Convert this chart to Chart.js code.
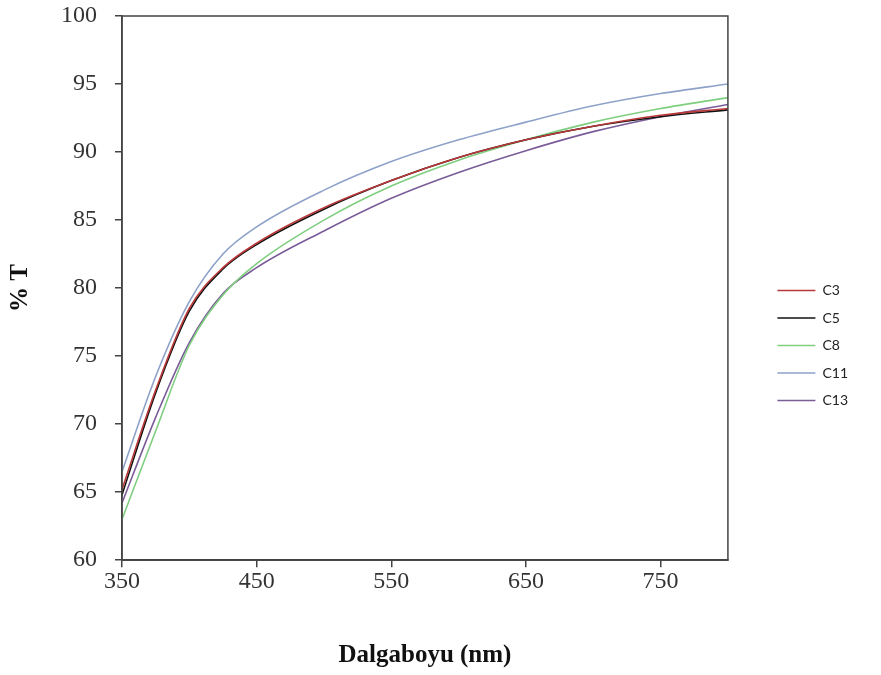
<!DOCTYPE html>
<html>
<head>
<meta charset="utf-8">
<script src="https://cdn.jsdelivr.net/npm/chart.js@4"></script>
<style>
  html, body { margin: 0; padding: 0; background: #fff; }
  #wrap { width: 881px; height: 675px; }
</style>
</head>
<body>
<div id="wrap"><canvas id="spektrum"></canvas></div>
<script>
// Dalgaboyu (nm)
const wavelengths = [350, 375, 400, 425, 450, 500, 550, 600, 650, 700, 750, 800];
// % T degerleri
const c3  = [65.2, 72.5, 78.5, 81.5, 83.3, 85.9, 87.9, 89.6, 90.9, 91.9, 92.7, 93.2];
const c5  = [64.8, 72.3, 78.3, 81.4, 83.2, 85.8, 87.9, 89.6, 90.9, 91.9, 92.6, 93.1];
const c8  = [63.0, 69.5, 75.8, 79.5, 81.8, 85.0, 87.5, 89.4, 90.9, 92.2, 93.2, 94.0];
const c11 = [66.5, 73.5, 79.0, 82.5, 84.5, 87.2, 89.3, 90.9, 92.2, 93.4, 94.3, 95.0];
const c13 = [64.2, 70.5, 76.0, 79.6, 81.5, 84.2, 86.6, 88.5, 90.1, 91.5, 92.6, 93.5];
const xTicks = [350, 450, 550, 650, 750];
const yTicks = [60, 65, 70, 75, 80, 85, 90, 95, 100];

function toPoints(vals) {
  return vals.map(function(v, i) { return { x: wavelengths[i], y: v }; });
}

function serie(label, vals, color) {
  return {
    label: label,
    data: toPoints(vals),
    borderColor: color,
    backgroundColor: color,
    borderWidth: 1.6,
    pointRadius: 0,
    tension: 0.4,
    cubicInterpolationMode: 'monotone'
  };
}

// kutu cercevesi
const frame = {
  id: 'frame',
  afterDatasetsDraw: function(chart) {
    const a = chart.chartArea;
    const ctx = chart.ctx;
    ctx.save();
    ctx.strokeStyle = '#444';
    ctx.lineWidth = 1.5;
    ctx.strokeRect(a.left, a.top, a.right - a.left, a.bottom - a.top);
    ctx.restore();
  }
};

const tickFont = { family: '"Liberation Serif", "Times New Roman", serif', size: 24 };
const titleFont = { family: '"Liberation Serif", "Times New Roman", serif', size: 25, weight: 'bold' };

const ctx = document.getElementById('spektrum').getContext('2d');
new Chart(ctx, {
  type: 'line',
  data: {
    datasets: [
      serie('C3', c3, '#b8383a'),
      serie('C5', c5, '#111111'),
      serie('C8', c8, '#7fce7f'),
      serie('C11', c11, '#8ea2c9'),
      serie('C13', c13, '#7a5c99')
    ]
  },
  options: {
    responsive: true,
    maintainAspectRatio: false,
    animation: false,
    layout: {
      padding: { top: 16, right: 23, bottom: 0, left: 2 }
    },
    scales: {
      x: {
        type: 'linear',
        min: 350,
        max: 800,
        afterBuildTicks: function(scale) {
          scale.ticks = xTicks.map(function(v) { return { value: v }; });
        },
        grid: { drawOnChartArea: false, drawTicks: true, tickLength: 7, color: '#444', lineWidth: 1.5 },
        border: { display: true, color: '#444', width: 1.5 },
        ticks: { color: '#333', font: tickFont, padding: 0, maxRotation: 0 },
        title: { display: true, text: 'Dalgaboyu (nm)', color: '#111', font: titleFont, padding: { top: 45 } }
      },
      y: {
        min: 60,
        max: 100,
        afterBuildTicks: function(scale) {
          scale.ticks = yTicks.map(function(v) { return { value: v }; });
        },
        afterFit: function(scale) {
          scale.width = 120;
          scale.paddingTop = 0;
          scale.paddingBottom = 0;
        },
        grid: { drawOnChartArea: false, drawTicks: true, tickLength: 7, color: '#444', lineWidth: 1.5 },
        border: { display: true, color: '#444', width: 1.5 },
        ticks: { color: '#333', font: tickFont, padding: 18 },
        title: { display: true, text: '% T', color: '#111', font: titleFont, padding: { bottom: 10 } }
      },
      // bos sag eksen: lejant ile grafik arasinda bosluk
      yBosluk: {
        position: 'right',
        display: true,
        grid: { display: false },
        border: { display: false },
        ticks: { display: false },
        afterFit: function(scale) {
          scale.width = 36;
        }
      }
    },
    plugins: {
      legend: {
        position: 'right',
        labels: {
          usePointStyle: true,
          pointStyle: 'line',
          pointStyleWidth: 38,
          boxHeight: 14,
          padding: 13.5,
          color: '#222',
          font: { family: 'Lato, "Open Sans", sans-serif', size: 14 }
        }
      },
      tooltip: { enabled: false }
    }
  },
  plugins: [frame]
});
</script>
</body>
</html>
